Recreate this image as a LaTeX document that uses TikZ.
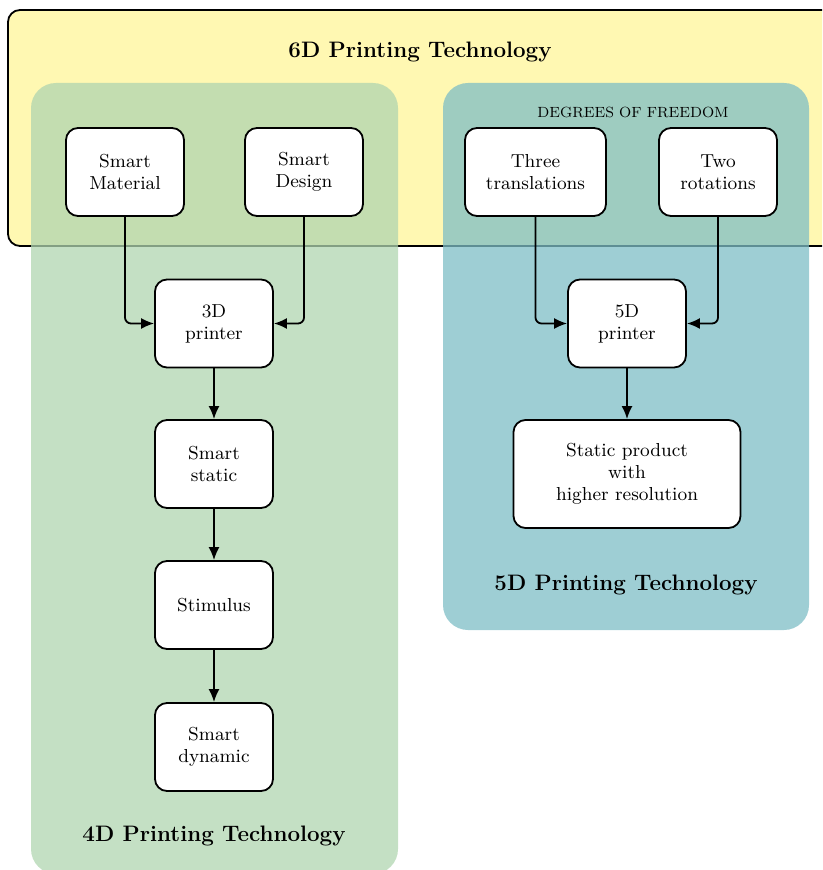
\documentclass[tikz,border=0pt]{standalone}
\usetikzlibrary{arrows.meta}
\definecolor{ylw}{RGB}{255,248,178}
\definecolor{grn}{RGB}{176,213,176}
\definecolor{tl}{RGB}{126,190,198}
\begin{document}
\begin{tikzpicture}[x=0.5pt,y=-0.5pt,
  box/.style={draw, line width=0.9pt, fill=white, rounded corners=6pt, minimum width=59pt, minimum height=44pt, align=center, font=\fontsize{9.4}{11}\selectfont, inner sep=2pt},
  conn/.style={line width=0.9pt, -{Latex[length=6.5pt,width=5.5pt]}, rounded corners=3pt},
  panel/.style={fill opacity=0.75, rounded corners=12.5pt},
  ttl/.style={font=\large\bfseries, scale=0.932}]
\useasboundingbox (0,0) rectangle (822,870);
\clip (0,0) rectangle (822,870);
% 6D outer box
\draw[line width=0.9pt, fill=ylw, rounded corners=6pt] (8,10) rectangle (834,246);
% panels
\fill[panel, fill=grn] (31,83) rectangle (398,874);
\fill[panel, fill=tl] (443,83) rectangle (809,630);
% titles
\node[ttl] (t6) at (420,52) {6D Printing Technology};
\node[ttl] (t5) at (626,585) {5D Printing Technology};
\node[ttl] (t4) at (214,836) {4D Printing Technology};
\node[font=\footnotesize, scale=0.923] (dof) at (633,112) {DEGREES OF FREEDOM};
% nodes
\node[box] (sm) at (125,172) {Smart\\Material};
\node[box] (sd) at (304,172) {Smart\\Design};
\node[box, minimum width=70.5pt] (tt) at (535.5,172) {Three\\translations};
\node[box] (tr) at (718,172) {Two\\rotations};
\node[box] (p3) at (214,323.5) {3D\\printer};
\node[box] (ss) at (214,464) {Smart\\static};
\node[box] (st) at (214,605) {Stimulus};
\node[box] (sdy) at (214,747) {Smart\\dynamic};
\node[box] (p5) at (627,323.5) {5D\\printer};
\node[box, minimum width=113.5pt, minimum height=54pt] (sp) at (627,474) {Static product\\with\\higher resolution};
% connectors
\draw[conn] (sm.south) |- (p3.west);
\draw[conn] (sd.south) |- (p3.east);
\draw[conn] (p3) -- (ss);
\draw[conn] (ss) -- (st);
\draw[conn] (st) -- (sdy);
\draw[conn] (tt.south) |- (p5.west);
\draw[conn] (tr.south) |- (p5.east);
\draw[conn] (p5) -- (sp);
\end{tikzpicture}
\end{document}
